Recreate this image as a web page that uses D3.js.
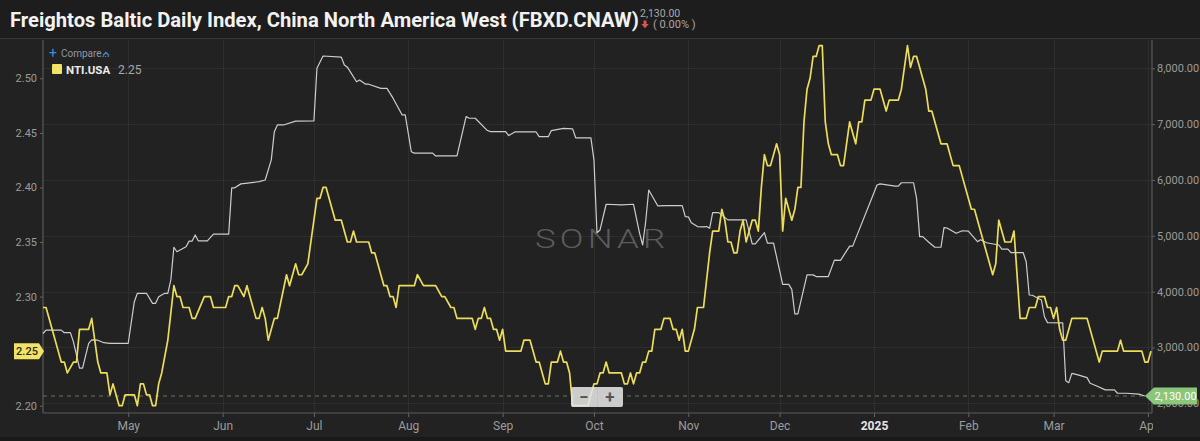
<!DOCTYPE html>
<html>
<head>
<meta charset="utf-8">
<script src="https://cdn.jsdelivr.net/npm/d3@7"></script>
<style>
  body { margin: 0; background: #222; overflow: hidden; }
  text { font-family: Roboto, "Noto Sans", sans-serif; }
</style>
</head>
<body>
<script>
// NTI.USA (left axis, yellow)
const ntiDates = [
  "2024-04-03","2024-04-04","2024-04-06","2024-04-08","2024-04-09","2024-04-10","2024-04-11","2024-04-13","2024-04-14","2024-04-15",
  "2024-04-18","2024-04-19","2024-04-20","2024-04-21","2024-04-22","2024-04-24","2024-04-25","2024-04-26","2024-04-28","2024-04-29",
  "2024-04-30","2024-05-03","2024-05-04","2024-05-05","2024-05-06","2024-05-07","2024-05-08","2024-05-09","2024-05-10","2024-05-11",
  "2024-05-12","2024-05-14","2024-05-16","2024-05-17","2024-05-18","2024-05-19","2024-05-21","2024-05-22","2024-05-23","2024-05-26",
  "2024-05-28","2024-05-29","2024-06-02","2024-06-03","2024-06-04","2024-06-05","2024-06-06","2024-06-08","2024-06-09","2024-06-12",
  "2024-06-13","2024-06-14","2024-06-15","2024-06-16","2024-06-18","2024-06-19","2024-06-22","2024-06-23","2024-06-25","2024-06-26",
  "2024-06-27","2024-06-29","2024-07-01","2024-07-02","2024-07-03","2024-07-04","2024-07-05","2024-07-08","2024-07-10","2024-07-12",
  "2024-07-13","2024-07-14","2024-07-15","2024-07-19","2024-07-20","2024-07-21","2024-07-24","2024-07-25","2024-07-26","2024-07-27",
  "2024-07-28","2024-07-29","2024-08-03","2024-08-04","2024-08-06","2024-08-10","2024-08-12","2024-08-13","2024-08-15","2024-08-16",
  "2024-08-17","2024-08-22","2024-08-23","2024-08-24","2024-08-25","2024-08-26","2024-08-27","2024-08-28","2024-08-29","2024-08-30",
  "2024-08-31","2024-09-01","2024-09-02","2024-09-07","2024-09-08","2024-09-10","2024-09-12","2024-09-13","2024-09-15","2024-09-16",
  "2024-09-17","2024-09-19","2024-09-20","2024-09-21","2024-09-22","2024-09-23","2024-09-24","2024-09-29","2024-10-01","2024-10-02",
  "2024-10-03","2024-10-04","2024-10-05","2024-10-06","2024-10-10","2024-10-11","2024-10-12","2024-10-13","2024-10-14","2024-10-15",
  "2024-10-16","2024-10-17","2024-10-18","2024-10-19","2024-10-20","2024-10-21","2024-10-23","2024-10-24","2024-10-26","2024-10-27",
  "2024-10-28","2024-10-29","2024-10-30","2024-10-31","2024-11-01","2024-11-03","2024-11-04","2024-11-06","2024-11-08","2024-11-09",
  "2024-11-11","2024-11-12","2024-11-13","2024-11-14","2024-11-15","2024-11-16","2024-11-17","2024-11-18","2024-11-19","2024-11-20",
  "2024-11-21","2024-11-22","2024-11-23","2024-11-24","2024-11-25","2024-11-26","2024-11-27","2024-11-28","2024-11-30","2024-12-01",
  "2024-12-02","2024-12-03","2024-12-05","2024-12-06","2024-12-07","2024-12-08","2024-12-09","2024-12-10","2024-12-11","2024-12-12",
  "2024-12-13","2024-12-14","2024-12-15","2024-12-16","2024-12-17","2024-12-18","2024-12-20","2024-12-21","2024-12-22","2024-12-24",
  "2024-12-26","2024-12-27","2024-12-28","2024-12-29","2024-12-31","2025-01-01","2025-01-03","2025-01-05","2025-01-06","2025-01-09",
  "2025-01-10","2025-01-12","2025-01-13","2025-01-14","2025-01-15","2025-01-18","2025-01-19","2025-01-20","2025-01-23","2025-01-25",
  "2025-01-27","2025-01-29","2025-02-02","2025-02-03","2025-02-09","2025-02-10","2025-02-11","2025-02-13","2025-02-15","2025-02-16",
  "2025-02-18","2025-02-20","2025-02-21","2025-02-23","2025-02-24","2025-02-26","2025-02-27","2025-02-28","2025-03-01","2025-03-02",
  "2025-03-03","2025-03-04","2025-03-05","2025-03-07","2025-03-12","2025-03-16","2025-03-17","2025-03-22","2025-03-23","2025-03-24",
  "2025-03-30","2025-03-31","2025-04-01","2025-04-02"
];
const ntiValues = [
  2.29,2.29,2.27,2.25,2.24,2.24,2.23,2.24,2.24,2.27,
  2.27,2.28,2.26,2.24,2.23,2.23,2.21,2.22,2.20,2.20,
  2.21,2.21,2.20,2.22,2.22,2.21,2.21,2.20,2.20,2.22,
  2.23,2.26,2.31,2.30,2.30,2.29,2.29,2.28,2.28,2.30,
  2.30,2.29,2.29,2.30,2.30,2.31,2.31,2.30,2.31,2.28,
  2.28,2.29,2.28,2.26,2.28,2.28,2.32,2.31,2.33,2.32,
  2.32,2.33,2.37,2.39,2.39,2.40,2.40,2.37,2.37,2.35,
  2.35,2.36,2.35,2.35,2.34,2.34,2.31,2.31,2.30,2.30,
  2.29,2.31,2.31,2.32,2.31,2.31,2.30,2.30,2.29,2.29,
  2.28,2.28,2.27,2.28,2.28,2.29,2.28,2.28,2.27,2.27,
  2.26,2.27,2.25,2.25,2.26,2.26,2.24,2.24,2.22,2.22,
  2.24,2.24,2.25,2.24,2.24,2.23,2.20,2.20,2.22,2.22,
  2.23,2.23,2.24,2.23,2.23,2.22,2.22,2.23,2.22,2.23,
  2.23,2.24,2.24,2.25,2.25,2.27,2.27,2.28,2.28,2.27,
  2.27,2.26,2.27,2.25,2.25,2.27,2.29,2.29,2.34,2.36,
  2.36,2.38,2.37,2.35,2.35,2.34,2.34,2.36,2.37,2.35,
  2.36,2.37,2.37,2.36,2.40,2.43,2.42,2.42,2.44,2.43,
  2.36,2.39,2.37,2.38,2.40,2.40,2.46,2.49,2.50,2.52,
  2.52,2.53,2.53,2.46,2.44,2.43,2.43,2.42,2.42,2.46,
  2.44,2.46,2.46,2.48,2.48,2.49,2.49,2.47,2.48,2.48,
  2.49,2.53,2.51,2.52,2.52,2.49,2.47,2.47,2.44,2.44,
  2.42,2.42,2.38,2.38,2.32,2.33,2.37,2.35,2.35,2.36,
  2.28,2.28,2.29,2.29,2.30,2.30,2.29,2.29,2.28,2.29,
  2.27,2.26,2.26,2.28,2.28,2.24,2.25,2.25,2.26,2.25,
  2.25,2.24,2.24,2.25
];

// FBXD.CNAW (right axis, white)
const fbxDates = [
  "2024-04-03","2024-04-04","2024-04-09","2024-04-10","2024-04-12","2024-04-13","2024-04-15","2024-04-16","2024-04-18","2024-04-19",
  "2024-04-21","2024-04-23","2024-04-25","2024-05-01","2024-05-03","2024-05-04","2024-05-07","2024-05-09","2024-05-10","2024-05-11",
  "2024-05-13","2024-05-14","2024-05-15","2024-05-16","2024-05-17","2024-05-20","2024-05-21","2024-05-22","2024-05-23","2024-05-24",
  "2024-05-27","2024-05-29","2024-06-03","2024-06-04","2024-06-05","2024-06-07","2024-06-13","2024-06-15","2024-06-17","2024-06-18",
  "2024-06-19","2024-06-21","2024-06-25","2024-07-01","2024-07-02","2024-07-04","2024-07-10","2024-07-11","2024-07-12","2024-07-15",
  "2024-07-16","2024-07-18","2024-07-19","2024-07-23","2024-07-25","2024-07-27","2024-07-30","2024-07-31","2024-08-02","2024-08-03",
  "2024-08-09","2024-08-10","2024-08-17","2024-08-20","2024-08-21","2024-08-23","2024-08-27","2024-08-28","2024-09-02","2024-09-03",
  "2024-09-05","2024-09-12","2024-09-13","2024-09-16","2024-09-17","2024-09-21","2024-09-24","2024-09-25","2024-09-30","2024-10-01",
  "2024-10-02","2024-10-03","2024-10-05","2024-10-10","2024-10-14","2024-10-16","2024-10-17","2024-10-18","2024-10-19","2024-10-22",
  "2024-10-25","2024-10-30","2024-10-31","2024-11-01","2024-11-02","2024-11-04","2024-11-06","2024-11-07","2024-11-08","2024-11-09",
  "2024-11-11","2024-11-14","2024-11-20","2024-11-22","2024-11-23","2024-11-26","2024-11-27","2024-11-29","2024-12-02","2024-12-04",
  "2024-12-05","2024-12-06","2024-12-07","2024-12-10","2024-12-12","2024-12-13","2024-12-17","2024-12-19","2024-12-21","2024-12-24",
  "2024-12-25","2025-01-02","2025-01-03","2025-01-08","2025-01-09","2025-01-10","2025-01-14","2025-01-15","2025-01-16","2025-01-17",
  "2025-01-19","2025-01-21","2025-01-23","2025-01-24","2025-01-25","2025-01-28","2025-01-30","2025-02-01","2025-02-04","2025-02-05",
  "2025-02-07","2025-02-11","2025-02-12","2025-02-14","2025-02-15","2025-02-19","2025-02-20","2025-02-21","2025-02-22","2025-02-25",
  "2025-02-26","2025-02-27","2025-03-04","2025-03-05","2025-03-06","2025-03-07","2025-03-09","2025-03-12","2025-03-13","2025-03-15",
  "2025-03-18","2025-03-21","2025-03-22","2025-03-25","2025-03-29","2025-03-31"
];
const fbxValues = [
  3250,3310,3310,3265,3265,3100,2630,2630,3075,3135,
  3130,3085,3075,3075,3820,3970,3970,3790,3790,3910,
  3970,3970,4210,4795,4715,4805,4905,4905,5015,4910,
  4910,5030,5030,5860,5860,5930,5970,6000,6360,6865,
  6985,6985,7055,7060,8000,8220,8200,8060,8020,7760,
  7790,7715,7715,7640,7640,7465,7165,7165,6505,6480,
  6480,6430,6430,7135,7105,7105,6885,6865,6865,6795,
  6860,6860,6775,6775,6885,6925,6915,6755,6755,6360,
  5055,5105,5565,5555,5565,5045,4835,5255,5820,5535,
  5540,5540,5345,5340,5235,5165,5160,5165,5135,5415,
  5415,5285,5285,4855,4855,5055,4870,4870,4130,4130,
  4040,3600,3600,4300,4300,4270,4270,4565,4560,4815,
  4815,5910,5930,5890,5890,5950,5950,5670,4985,4985,
  4885,4795,4795,5145,5140,5045,5090,5085,4895,4930,
  4875,4835,4760,4760,4700,4700,4535,3940,3935,3850,
  3550,3445,3440,2405,2370,2535,2510,2460,2360,2315,
  2240,2240,2180,2180,2165,2130
];

const leftTicks = [2.20, 2.25, 2.30, 2.35, 2.40, 2.45, 2.50];
const rightTicks = [2000, 3000, 4000, 5000, 6000, 7000, 8000];
const lastNti = 2.25;
const lastFbx = 2130;
const titleText = "Freightos Baltic Daily Index, China North America West (FBXD.CNAW)";

const parse = d3.timeParse("%Y-%m-%d");
const nti = ntiDates.map((d, i) => ({ date: parse(d), v: ntiValues[i] }));
const fbx = fbxDates.map((d, i) => ({ date: parse(d), v: fbxValues[i] }));

const W = 1200, H = 441;
const plotL = 43, plotR = 1152, plotT = 40, plotB = 413;

const x = d3.scaleTime()
  .domain([new Date(2024, 3, 3), new Date(2025, 3, 2, 8)])
  .range([plotL, plotR]);
const yL = d3.scaleLinear().domain([2.20, 2.50]).range([405.7, 78.3]);
const yR = d3.scaleLinear().domain([2000, 8000]).range([403.3, 68.3]);

const svg = d3.select("body").append("svg")
  .attr("width", W).attr("height", H);

svg.append("rect").attr("width", W).attr("height", H).attr("fill", "#222222");
svg.append("rect").attr("width", W).attr("height", 38).attr("fill", "#1d1d1d");
svg.append("line").attr("x1", 0).attr("x2", W).attr("y1", 38.5).attr("y2", 38.5)
  .attr("stroke", "#383838");
svg.append("rect").attr("y", 437).attr("width", W).attr("height", 4).attr("fill", "#191919");

// gridlines
const grid = svg.append("g").attr("stroke", "#2e2e2e").attr("stroke-width", 1);
grid.selectAll(".gh").data(rightTicks).enter().append("line")
  .attr("x1", plotL).attr("x2", plotR)
  .attr("y1", d => Math.round(yR(d)) + 0.5).attr("y2", d => Math.round(yR(d)) + 0.5);
grid.selectAll(".gv").data(x.ticks(d3.timeMonth.every(1))).enter().append("line")
  .attr("y1", plotT).attr("y2", plotB)
  .attr("x1", d => Math.round(x(d)) + 0.5).attr("x2", d => Math.round(x(d)) + 0.5);

// watermark
svg.append("text")
  .attr("transform", "translate(535,248) scale(1.4,1)")
  .attr("textLength", 93).attr("lengthAdjust", "spacing")
  .attr("font-size", 25).attr("font-weight", 300)
  .attr("fill", "#5b5b5b")
  .text("SONAR");

// axes
function styleAxis(g, size) {
  g.select(".domain").remove();
  g.selectAll(".tick line").attr("stroke", "#666");
  g.selectAll(".tick text").attr("fill", "#9c9c9c").attr("font-size", size)
    .attr("font-family", "Roboto, sans-serif");
}

svg.append("g").attr("transform", `translate(${plotL},0)`)
  .call(d3.axisLeft(yL).tickValues(leftTicks).tickFormat(d3.format(".2f")).tickSize(3).tickPadding(3))
  .call(g => styleAxis(g, 11));

svg.append("g").attr("transform", `translate(${plotR},0)`)
  .call(d3.axisRight(yR).tickValues(rightTicks).tickFormat(d3.format(",.2f")).tickSize(3).tickPadding(2))
  .call(g => styleAxis(g, 11));

svg.append("defs").append("clipPath").attr("id", "xclip")
  .append("rect").attr("x", 0).attr("y", 0).attr("width", plotR + 1).attr("height", H);

const xAxis = svg.append("g").attr("clip-path", "url(#xclip)")
  .append("g").attr("transform", `translate(0,${plotB})`)
  .call(d3.axisBottom(x).ticks(d3.timeMonth.every(1))
    .tickFormat(d => d.getMonth() === 0 ? d3.timeFormat("%Y")(d) : d3.timeFormat("%b")(d))
    .tickSize(4).tickPadding(4))
  .call(g => styleAxis(g, 12));
xAxis.selectAll(".tick text")
  .filter(d => d.getMonth() === 0)
  .attr("fill", "#e6e6e6").attr("font-weight", 700);

// axis lines
const axisLines = svg.append("g").attr("stroke", "#5a5a5a").attr("stroke-width", 1.2);
axisLines.append("line").attr("x1", plotL).attr("x2", plotL).attr("y1", plotT).attr("y2", plotB);
axisLines.append("line").attr("x1", plotR).attr("x2", plotR).attr("y1", plotT).attr("y2", plotB);
axisLines.append("line").attr("x1", plotL).attr("x2", plotR).attr("y1", plotB).attr("y2", plotB);

// last value reference line
svg.append("line")
  .attr("x1", plotL).attr("x2", x(fbx[fbx.length - 1].date))
  .attr("y1", yR(lastFbx)).attr("y2", yR(lastFbx))
  .attr("stroke", "#5d7a52").attr("stroke-dasharray", "4,4");

// series
svg.append("path").datum(fbx)
  .attr("fill", "none").attr("stroke", "#cdcdcd").attr("stroke-width", 1.2)
  .attr("stroke-linejoin", "round")
  .attr("d", d3.line().x(d => x(d.date)).y(d => yR(d.v)));

svg.append("path").datum(nti)
  .attr("fill", "none").attr("stroke", "#ecdc5c").attr("stroke-width", 1.7)
  .attr("stroke-linejoin", "round")
  .attr("d", d3.line().x(d => x(d.date)).y(d => yL(d.v)));

// zoom buttons
const zb = svg.append("g").attr("transform", "translate(571,387)");
zb.append("rect").attr("width", 52).attr("height", 20).attr("rx", 2)
  .attr("fill", "#e4e4e4").attr("fill-opacity", 0.88);
zb.append("line").attr("x1", 26.5).attr("x2", 26.5).attr("y1", 0).attr("y2", 20)
  .attr("stroke", "#c4c4c4");
zb.append("text").attr("x", 13).attr("y", 15.5).attr("text-anchor", "middle")
  .attr("font-size", 17).attr("font-weight", 700).attr("fill", "#555").text("−");
zb.append("text").attr("x", 39).attr("y", 15.5).attr("text-anchor", "middle")
  .attr("font-size", 17).attr("font-weight", 700).attr("fill", "#555").text("+");

// value tags
const ty = yL(lastNti);
svg.append("path")
  .attr("d", `M14,${ty - 8}H39L44,${ty}L39,${ty + 8}H14Z`)
  .attr("fill", "#f2e366");
svg.append("text").attr("x", 27).attr("y", ty + 4).attr("text-anchor", "middle")
  .attr("font-size", 11).attr("font-weight", 500).attr("fill", "#2a2a2a")
  .text(d3.format(".2f")(lastNti));

const gy = yR(lastFbx);
const gx = x(fbx[fbx.length - 1].date);
svg.append("path")
  .attr("d", `M${gx},${gy}L${gx + 9},${gy - 8.5}H1197V${gy + 8.5}H${gx + 9}Z`)
  .attr("fill", "#8cc67a");
svg.append("text").attr("x", 1175.5).attr("y", gy + 4).attr("text-anchor", "middle")
  .attr("font-size", 11).attr("fill", "#ffffff")
  .text(d3.format(",.2f")(lastFbx));

// title bar
svg.append("text").attr("x", 10).attr("y", 27)
  .attr("font-size", 20.2).attr("font-weight", 700).attr("fill", "#f2f2f2")
  .text(titleText);
svg.append("text").attr("x", 640).attr("y", 17)
  .attr("font-size", 10.5).attr("fill", "#a8a8a8")
  .text(d3.format(",.2f")(lastFbx));
svg.append("path").attr("d", "M643.5,20.5h3v3.5h2.2l-3.7,4.2l-3.7,-4.2h2.2z").attr("fill", "#e0524d");
svg.append("text").attr("x", 653).attr("y", 28)
  .attr("font-size", 11).attr("fill", "#a8a8a8")
  .text("( 0.00% )");

// legend
const lg = svg.append("g");
lg.append("text").attr("x", 49).attr("y", 57.5).attr("font-size", 14)
  .attr("fill", "#3d8be0").text("+");
lg.append("text").attr("x", 61).attr("y", 56.5).attr("font-size", 10)
  .attr("fill", "#8e97a4").text("Compare...");
lg.append("path").attr("d", "M103,55.5l3,-3l3,3").attr("fill", "none")
  .attr("stroke", "#3d8be0").attr("stroke-width", 1.3);
lg.append("rect").attr("x", 52).attr("y", 64).attr("width", 10).attr("height", 10)
  .attr("rx", 1).attr("fill", "#f2e366");
lg.append("text").attr("x", 66).attr("y", 73.5).attr("font-size", 11.5)
  .attr("font-weight", 700).attr("fill", "#ececec").text("NTI.USA");
lg.append("text").attr("x", 118).attr("y", 73.5).attr("font-size", 12)
  .attr("fill", "#a8a8a8").text(d3.format(".2f")(lastNti));
</script>
</body>
</html>
